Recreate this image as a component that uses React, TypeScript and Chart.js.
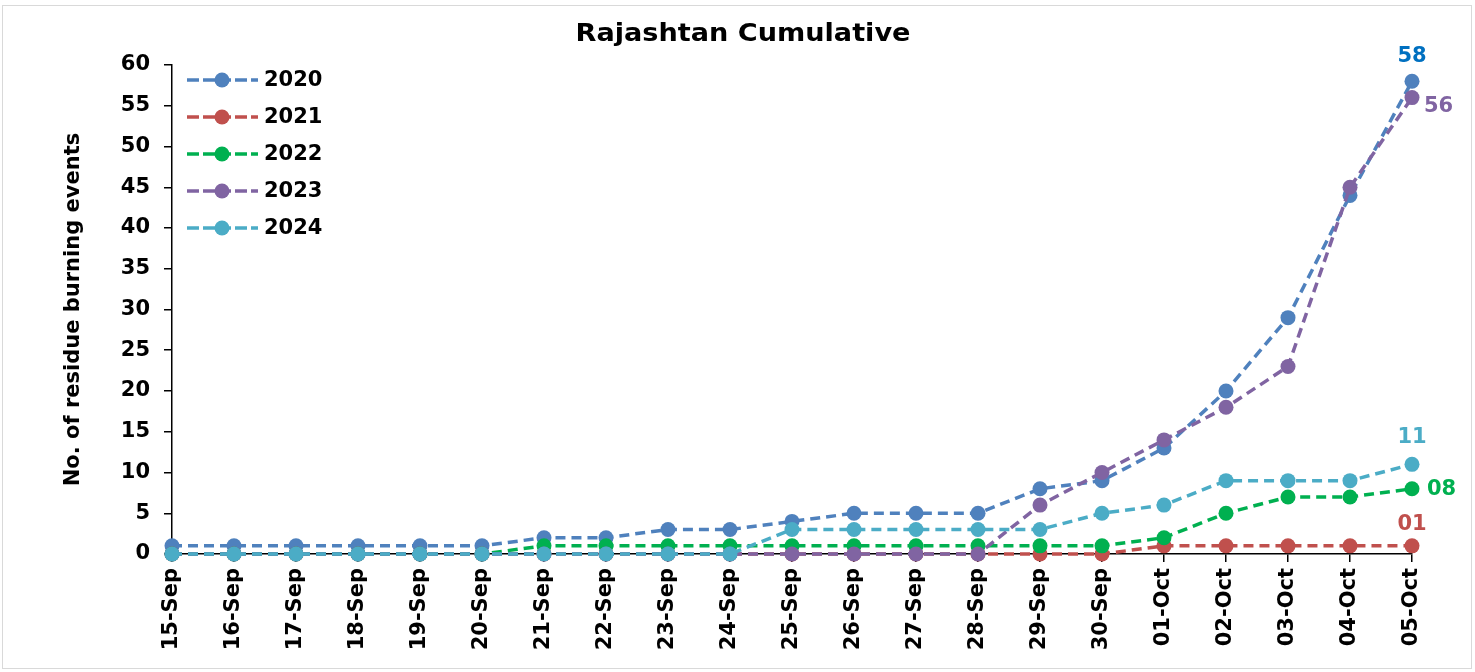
import { useEffect, useRef } from 'react';
import { Chart, registerables } from 'chart.js';

Chart.register(...registerables);

const chartTitle = 'Rajashtan Cumulative';
const yAxisTitle = 'No. of residue burning events';

const categories = [
  '15-Sep', '16-Sep', '17-Sep', '18-Sep', '19-Sep', '20-Sep', '21-Sep',
  '22-Sep', '23-Sep', '24-Sep', '25-Sep', '26-Sep', '27-Sep', '28-Sep',
  '29-Sep', '30-Sep', '01-Oct', '02-Oct', '03-Oct', '04-Oct', '05-Oct',
];

const seriesNames = ['2020', '2021', '2022', '2023', '2024'];

const values2020 = [1, 1, 1, 1, 1, 1, 2, 2, 3, 3, 4, 5, 5, 5, 8, 9, 13, 20, 29, 44, 58];
const values2021 = [0, 0, 0, 0, 0, 0, 0, 0, 0, 0, 0, 0, 0, 0, 0, 0, 1, 1, 1, 1, 1];
const values2022 = [0, 0, 0, 0, 0, 0, 1, 1, 1, 1, 1, 1, 1, 1, 1, 1, 2, 5, 7, 7, 8];
const values2023 = [0, 0, 0, 0, 0, 0, 0, 0, 0, 0, 0, 0, 0, 0, 6, 10, 14, 18, 23, 45, 56];
const values2024 = [0, 0, 0, 0, 0, 0, 0, 0, 0, 0, 3, 3, 3, 3, 3, 5, 6, 9, 9, 9, 11];

const allSeries = [values2020, values2021, values2022, values2023, values2024];

const yMin = 0;
const yMax = 60;
const yStep = 5;

// styles
const lineColors = ['#4F81BD', '#C0504D', '#00B050', '#8064A2', '#4BACC6'];
const endLabelColors = ['#0070C0', '#C0504D', '#00B050', '#8064A2', '#4BACC6'];
const endLabelPlacement = [
  { dx: 0, dy: -25, align: 'center' },
  { dx: 0, dy: -21, align: 'center' },
  { dx: 15, dy: 1, align: 'left' },
  { dx: 12, dy: 9, align: 'left' },
  { dx: 0, dy: -27, align: 'center' },
];

const FONT = '"DejaVu Sans", sans-serif';
const DASH = [10, 6];

const overlayPlugin = {
  id: 'overlay',
  beforeDraw(chart: any) {
    const ctx = chart.ctx;
    ctx.save();
    ctx.strokeStyle = '#D9D9D9';
    ctx.lineWidth = 1;
    ctx.strokeRect(2.5, 5.5, 1469, 663);
    ctx.restore();
  },
  afterDraw(chart: any) {
    const ctx = chart.ctx;
    // title
    ctx.save();
    ctx.font = `bold 24px ${FONT}`;
    ctx.fillStyle = '#000';
    ctx.textAlign = 'center';
    ctx.textBaseline = 'alphabetic';
    ctx.translate(743, 41);
    ctx.scale(1.13, 1);
    ctx.fillText(chartTitle, 0, 0);
    ctx.restore();

    // legend
    seriesNames.forEach((name, i) => {
      const y = 80 + 37 * i;
      ctx.save();
      ctx.strokeStyle = lineColors[i];
      ctx.lineWidth = 3.5;
      ctx.setLineDash([12, 4]);
      ctx.beginPath();
      ctx.moveTo(187, y);
      ctx.lineTo(258, y);
      ctx.stroke();
      ctx.setLineDash([]);
      ctx.fillStyle = lineColors[i];
      ctx.beginPath();
      ctx.arc(222, y, 7.5, 0, Math.PI * 2);
      ctx.fill();
      ctx.fillStyle = '#000';
      ctx.font = `bold 21px ${FONT}`;
      ctx.textAlign = 'left';
      ctx.textBaseline = 'middle';
      ctx.fillText(name, 264, y + 1);
      ctx.restore();
    });

    // end labels
    chart.data.datasets.forEach((ds: any, i: number) => {
      const meta = chart.getDatasetMeta(i);
      const last = meta.data[meta.data.length - 1];
      const v = ds.data[ds.data.length - 1];
      const p = endLabelPlacement[i];
      ctx.save();
      ctx.font = `bold 21px ${FONT}`;
      ctx.fillStyle = endLabelColors[i];
      ctx.textAlign = p.align;
      ctx.textBaseline = 'middle';
      ctx.fillText(String(v).padStart(2, '0'), last.x + p.dx, last.y + p.dy);
      ctx.restore();
    });
  },
};

export default function App() {
  const ref = useRef<HTMLCanvasElement | null>(null);

  useEffect(() => {
    const canvas = ref.current;
    if (!canvas) return;
    Chart.defaults.font.family = FONT;
    const chart = new Chart(canvas, {
      type: 'line',
      data: {
        labels: categories,
        datasets: allSeries.map((vals, i) => ({
          label: seriesNames[i],
          data: vals,
          borderColor: lineColors[i],
          backgroundColor: lineColors[i],
          pointBackgroundColor: lineColors[i],
          pointBorderColor: lineColors[i],
          pointRadius: 7.5,
          pointBorderWidth: 0,
          borderWidth: 3.5,
          borderDash: DASH,
          tension: 0,
          fill: false,
          order: 4 - i,
          clip: false,
        })),
      },
      options: {
        responsive: false,
        animation: false,
        devicePixelRatio: 1,
        layout: { padding: { top: 65, left: 57, right: 63, bottom: 8 } },
        plugins: {
          legend: { display: false },
          title: { display: false },
          tooltip: { enabled: false },
        },
        scales: {
          x: {
            grid: {
              display: true,
              drawOnChartArea: false,
              drawTicks: true,
              tickLength: 8,
              color: '#000',
              lineWidth: 1.5,
            },
            border: { display: true, color: '#000', width: 1.5 },
            ticks: {
              color: '#000',
              font: { size: 21, weight: 'bold' },
              maxRotation: 90,
              minRotation: 90,
              padding: 6,
              autoSkip: false,
            },
            afterFit: (s: any) => {
              s.height = 110;
            },
          },
          y: {
            min: yMin,
            max: yMax,
            ticks: {
              stepSize: yStep,
              color: '#000',
              font: { size: 21, weight: 'bold' },
              padding: 14,
            },
            grid: {
              display: true,
              drawOnChartArea: false,
              drawTicks: true,
              tickLength: 8,
              color: '#000',
              lineWidth: 1.5,
            },
            border: { display: true, color: '#000', width: 1.5 },
            title: {
              display: true,
              text: yAxisTitle,
              color: '#000',
              font: { size: 21, weight: 'bold' },
              padding: { top: 4, bottom: 4 },
            },
            afterFit: (s: any) => {
              s.width = 115;
            },
          },
        },
      },
      plugins: [overlayPlugin],
    } as any);
    return () => chart.destroy();
  }, []);

  return (
    <div style={{ position: 'absolute', left: 0, top: 0, width: 1475, height: 672, background: '#fff' }}>
      <canvas ref={ref} width={1475} height={672} />
    </div>
  );
}
